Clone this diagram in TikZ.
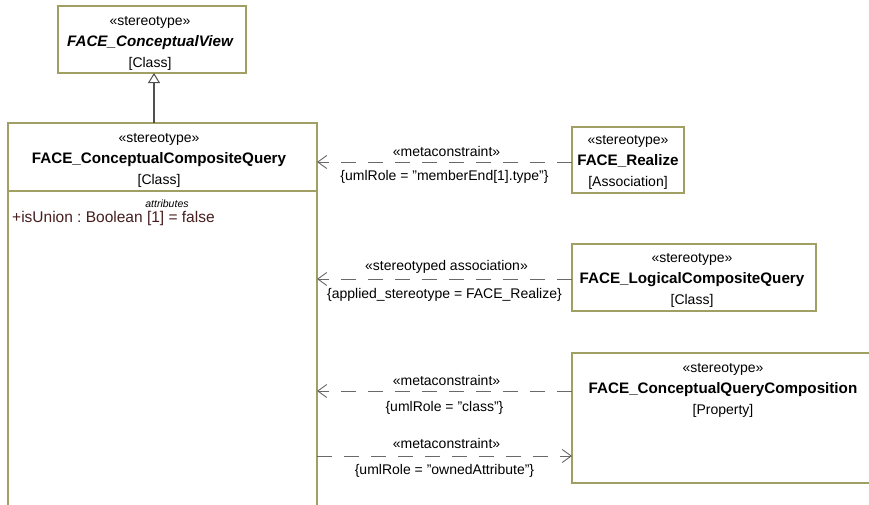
\documentclass[tikz,border=0pt]{standalone}
\usepackage{fontspec}
\setmainfont{Liberation Sans}
\usetikzlibrary{arrows.meta}
\definecolor{boxline}{RGB}{160,160,100}
\definecolor{attrc}{RGB}{70,30,30}
\definecolor{conn}{RGB}{105,105,105}
\definecolor{genc}{RGB}{80,80,80}
\newcommand{\dq}{\symbol{34}}
\begin{document}
\frenchspacing
\begin{tikzpicture}[x=1pt,y=-1pt,
  umlbox/.style={draw=boxline, line width=1.2pt, fill=white, inner sep=0pt, outer sep=0pt},
  stext/.style={font=\fontsize{14}{21}\selectfont, align=center, inner sep=0pt},
  dep/.style={draw=conn, line width=0.9pt, dash pattern=on 15pt off 12pt,
    -{Straight Barb[length=9pt, width=13pt, line width=0.9pt]}},
  gen/.style={draw=genc, line width=1.1pt,
    -{Triangle[open, length=10pt, width=12pt, fill=white, line width=1pt]}},
  lbl/.style={font=\fontsize{14}{16}\selectfont, inner sep=0pt, text=black}
]
\clip (0,0) rectangle (869,504);
\fill[white] (0,0) rectangle (869,504);

% boxes
\node[umlbox, minimum width=188pt, minimum height=67pt] (view) at (152,39.5) {};
\node[umlbox, minimum width=309pt, minimum height=397pt] (main) at (162.5,321.5) {};
\node[umlbox, minimum width=112pt, minimum height=66pt] (realize) at (628,160) {};
\node[umlbox, minimum width=244pt, minimum height=67pt] (logical) at (694,277.5) {};
\node[umlbox, minimum width=308pt, minimum height=130pt] (property) at (726,418) {};

% compartment line
\coordinate (ycomp) at (0,191);
\draw[draw=boxline, line width=1.2pt] (main.west |- ycomp) -- (main.east |- ycomp);

% texts
\node[stext] (viewtxt) at (150,43) {«stereotype»\\{\fontsize{15.2}{21}\selectfont\bfseries\itshape FACE\_ConceptualView}\\{[Class]}};
\node[stext] (maintxt) at (159,160) {«stereotype»\\{\fontsize{15.2}{21}\selectfont\bfseries FACE\_ConceptualCompositeQuery}\\{[Class]}};
\node[font=\fontsize{10.5}{12}\selectfont\itshape, inner sep=0pt] (attrhead) at (167,204) {attributes};
\node[font=\fontsize{15.5}{17}\selectfont, text=attrc, inner sep=0pt, anchor=west] (attr1) at (12,218) {+isUnion : Boolean [1] = false};
\node[stext] (realizetxt) at (628,162) {«stereotype»\\{\fontsize{15.2}{21}\selectfont\bfseries FACE\_Realize}\\{[Association]}};
\node[stext] (logicaltxt) at (692,280) {«stereotype»\\{\fontsize{15.2}{21}\selectfont\bfseries FACE\_LogicalCompositeQuery}\\{[Class]}};
\node[stext] (propertytxt) at (723,390) {«stereotype»\\{\fontsize{15.2}{21}\selectfont\bfseries FACE\_ConceptualQueryComposition}\\{[Property]}};

% generalization
\draw[gen] ([xshift=2pt]view.south |- main.north) -- ([xshift=2pt]view.south);

% connector levels
\coordinate (y1) at (0,162);
\coordinate (y2) at (0,279);
\coordinate (y3) at (0,391);
\coordinate (y4) at (0,456);

\draw[dep] (realize.west |- y1) -- (main.east |- y1)
  node[lbl, pos=0.5, yshift=11pt, xshift=2pt] (l1a) {«metaconstraint»}
  node[lbl, pos=0.5, yshift=-15pt] (l1b) {\{umlRole = \dq memberEnd[1].type\dq\}};
\draw[dep] (logical.west |- y2) -- (main.east |- y2)
  node[lbl, pos=0.5, yshift=12pt, xshift=2pt] (l2a) {«stereotyped association»}
  node[lbl, pos=0.5, yshift=-16pt] (l2b) {\{applied\_stereotype = FACE\_Realize\}};
\draw[dep] (property.west |- y3) -- (main.east |- y3)
  node[lbl, pos=0.5, yshift=11pt, xshift=2pt] (l3a) {«metaconstraint»}
  node[lbl, pos=0.5, yshift=-17pt] (l3b) {\{umlRole = \dq class\dq\}};
\draw[dep] (main.east |- y4) -- (property.west |- y4)
  node[lbl, pos=0.5, yshift=13pt, xshift=2pt] (l4a) {«metaconstraint»}
  node[lbl, pos=0.5, yshift=-15pt] (l4b) {\{umlRole = \dq ownedAttribute\dq\}};
\end{tikzpicture}
\end{document}
